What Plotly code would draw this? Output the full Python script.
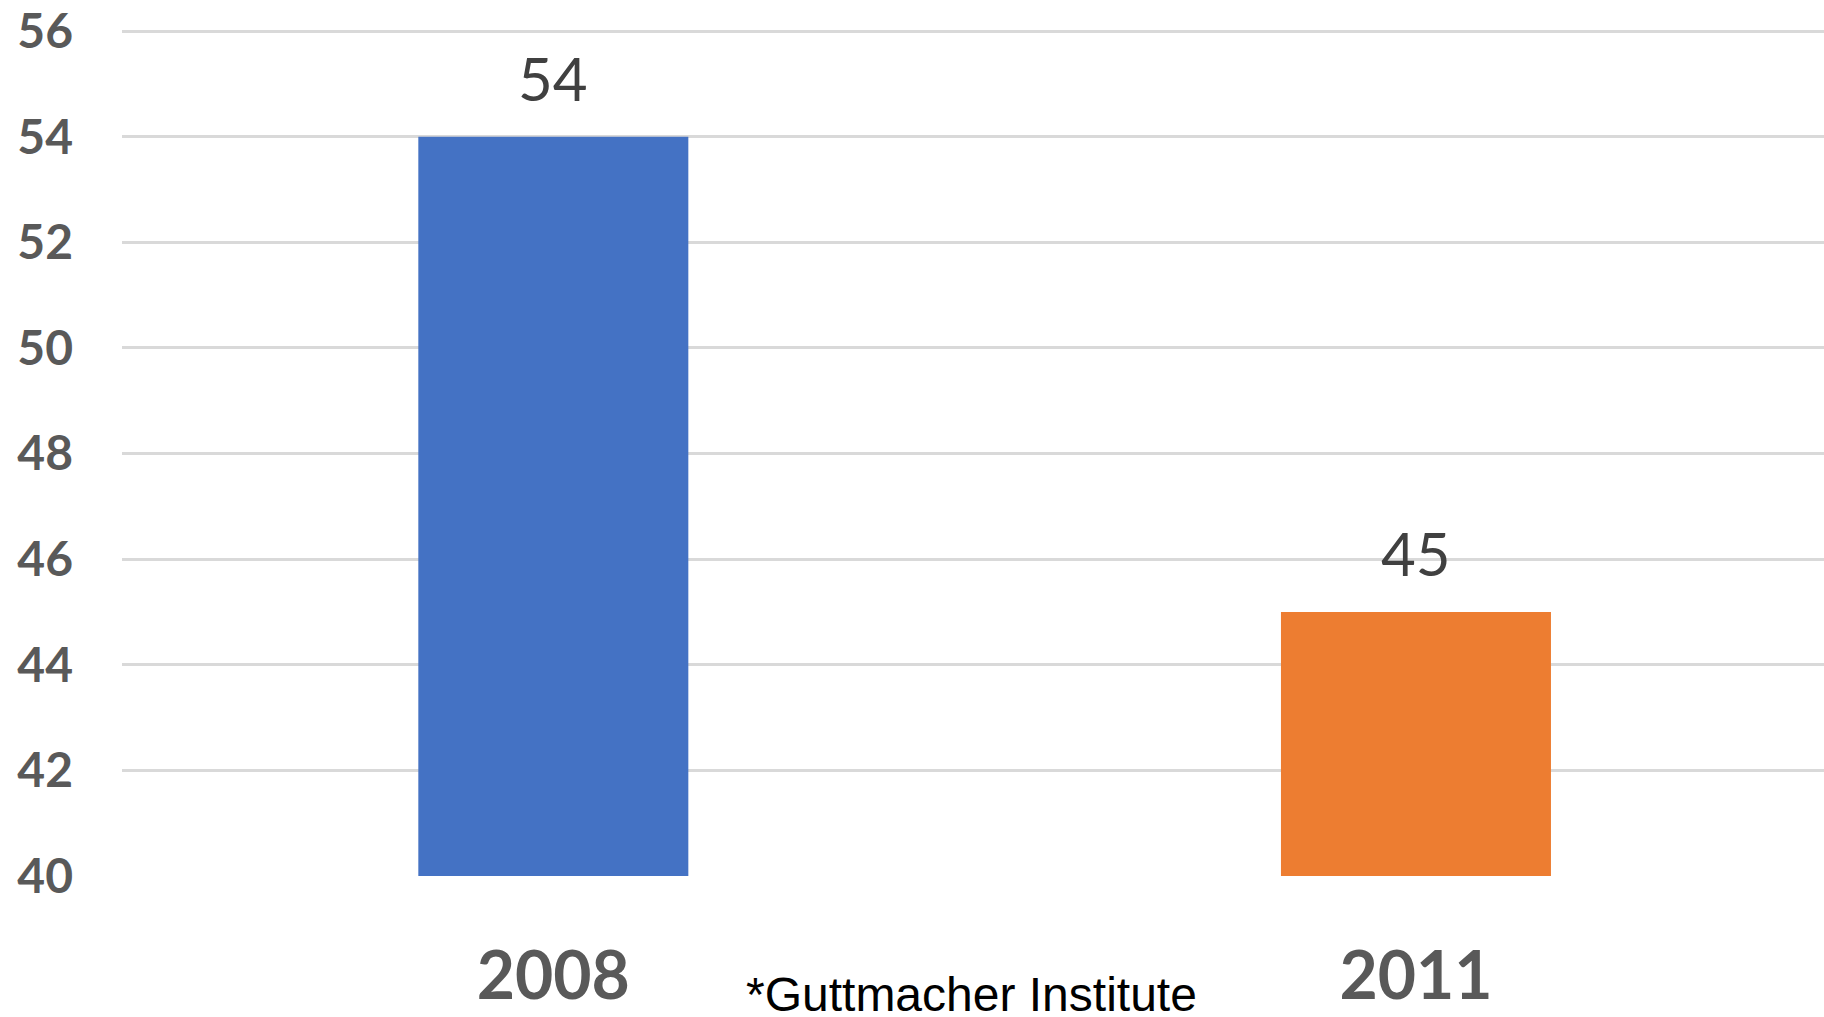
import plotly.graph_objects as go

categories = ["2008", "2011"]
values = [54, 45]
bar_colors = ["#4472C4", "#ED7D31"]
y_ticks = [40, 42, 44, 46, 48, 50, 52, 54, 56]
source_note = "*Guttmacher Institute"

W, H = 1824, 1017
M_L, M_R, M_T, M_B = 122, 0, 29, 141
plot_h = H - M_T - M_B
plot_w = W - M_L - M_R

fig = go.Figure()
fig.add_trace(go.Bar(
    x=categories,
    y=values,
    marker=dict(color=bar_colors, line=dict(width=0)),
    width=0.313,
    hoverinfo="skip",
))

for i, v in enumerate(values):
    fig.add_annotation(
        x=i, y=v, xref="x", yref="y",
        text=str(v), showarrow=False,
        yanchor="bottom", yshift=21,
        font=dict(family="Lato", size=60, color="#404040"),
    )

fig.add_annotation(
    x=(744 - M_L) / plot_w, y=((H - M_B) - 1023) / plot_h,
    xref="paper", yref="paper",
    xanchor="left", yanchor="bottom",
    text=source_note, showarrow=False,
    font=dict(family="Liberation Sans, Arial", size=48, color="#000000"),
)

fig.update_layout(
    width=W, height=H,
    margin=dict(l=M_L, r=M_R, t=M_T, b=M_B),
    paper_bgcolor="white", plot_bgcolor="white",
    showlegend=False,
    xaxis=dict(
        type="category",
        range=[-0.5, 1.473],
        showgrid=False, zeroline=False, showline=False,
        ticks="",
        automargin=False,
        tickfont=dict(family="Lato", size=66, color="#595959", weight="bold"),
        ticklabelstandoff=56,
    ),
    yaxis=dict(
        range=[40, 56.04],
        tickvals=y_ticks,
        showgrid=True, gridcolor="#D9D9D9", gridwidth=3,
        zeroline=False, showline=False,
        ticks="",
        automargin=False,
        tickfont=dict(family="Lato", size=48, color="#595959", weight="bold"),
        ticklabelstandoff=48,
    ),
)

fig.write_html(
    "out.html",
    config={"displayModeBar": False},
    post_script="document.body.style.margin='0';document.body.style.overflow='hidden';",
)
